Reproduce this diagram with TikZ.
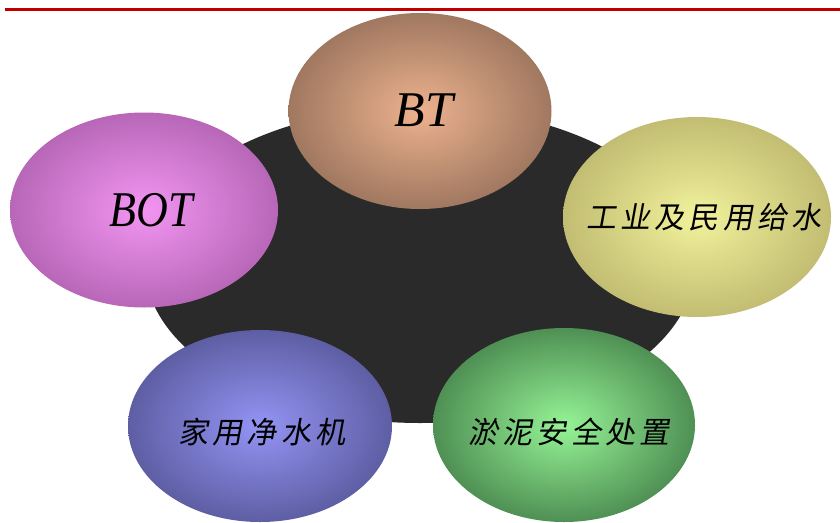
\documentclass[tikz,border=0pt]{standalone}
\usepackage{fontspec}
\usepackage{graphicx}
\setmainfont{Liberation Serif}
\newfontfamily\cjk[FakeSlant=0.18,LetterSpace=14]{Noto Sans CJK SC}
\usetikzlibrary{shapes.geometric}
\definecolor{redline}{HTML}{C00000}
\definecolor{hubcol}{HTML}{2A2A2A}
\definecolor{btin}{HTML}{EDB28F}
\definecolor{btout}{HTML}{A07860}
\definecolor{botin}{HTML}{F295F2}
\definecolor{botout}{HTML}{B867B8}
\definecolor{yin}{HTML}{F2F29C}
\definecolor{yout}{HTML}{C2BD72}
\definecolor{bin}{HTML}{9494F5}
\definecolor{bout}{HTML}{5E5EA4}
\definecolor{gin}{HTML}{96F496}
\definecolor{gout}{HTML}{4F9054}
\tikzset{
  ball/.style={ellipse, inner sep=0pt, shading=radial},
  latinlbl/.style={font=\fontsize{50}{50}\selectfont\itshape, inner sep=0pt},
  cjklbl/.style={font=\fontsize{30}{30}\selectfont\cjk, inner sep=0pt},
}
\begin{document}
\begin{tikzpicture}[x=1pt,y=-1pt]
\useasboundingbox (0,0) rectangle (840,522);
\coordinate (rl) at (5,9.5);
\coordinate (rr) at (840,9.5);
\draw[redline, line width=3.2pt] (rl) -- (rr);
\node[ellipse, fill=hubcol, minimum width=550pt, minimum height=316pt, inner sep=0pt] (hub) at (420,265) {};
\node[ball, inner color=btin, outer color=btout, minimum width=263pt, minimum height=196pt] (bt) at (420,111) {};
\node[ball, inner color=botin, outer color=botout, minimum width=268pt, minimum height=195pt] (bot) at (144,210) {};
\node[ball, inner color=yin, outer color=yout, minimum width=268pt, minimum height=200pt] (ind) at (697,217) {};
\node[ball, inner color=bin, outer color=bout, minimum width=264pt, minimum height=192pt] (home) at (260,426) {};
\node[ball, inner color=gin, outer color=gout, minimum width=262pt, minimum height=194pt] (mud) at (564,425) {};
\node[latinlbl] (btT) at (424,110) {BT};
\node[latinlbl] (botT) at (151,210) {\scalebox{0.88}[1]{BOT}};
\node[cjklbl] (indT) at (704,217) {工业及民用给水};
\node[cjklbl] (homeT) at (262,432) {家用净水机};
\node[cjklbl] (mudT) at (569,432) {淤泥安全处置};
\end{tikzpicture}
\end{document}
